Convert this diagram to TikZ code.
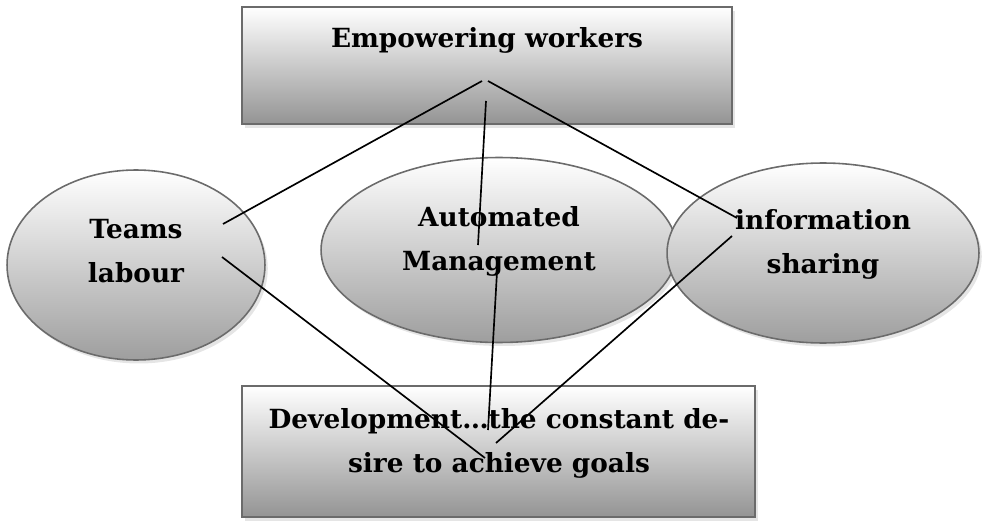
\documentclass[tikz,border=0pt]{standalone}
\usepackage{fontspec}
\setmainfont{DejaVu Serif}
\usetikzlibrary{shapes,shadows}

\tikzset{
  panel/.style={draw=black!58, line width=1.3pt, top color=white, bottom color=black!42, inner sep=0pt,
    drop shadow={shadow xshift=1.6pt, shadow yshift=-2pt, fill=black!20}},
  bubble/.style={ellipse, draw=black!58, line width=0.9pt, top color=white, bottom color=black!38, inner sep=0pt,
    drop shadow={shadow xshift=1.6pt, shadow yshift=-2pt, fill=black!20}},
  caption/.style={font=\fontsize{15}{25}\selectfont\bfseries, align=center, anchor=base, inner sep=0pt},
  link/.style={line width=0.95pt}
}

\begin{document}
\begin{tikzpicture}[x=0.02cm,y=-0.02cm]
    \useasboundingbox (0,0) rectangle (983,530);

    \node [panel, minimum width=9.8cm, minimum height=2.34cm] (empower) at (487,65.5) {};
    \node [panel, minimum width=10.26cm, minimum height=2.62cm] (develop) at (498.5,451.5) {};
    \node [bubble, minimum width=5.16cm, minimum height=3.8cm] (teams) at (136,265) {};
    \node [bubble, minimum width=7.12cm, minimum height=3.7cm] (automated) at (499,250) {};
    \node [bubble, minimum width=6.24cm, minimum height=3.6cm] (sharing) at (823,253) {};

    % two-line captions sit on their last baseline
    \node [caption] (empower-text) at (487,48) {Empowering workers};
    \node [caption] (teams-text) at (136,282) {Teams\\labour};
    \node [caption] (automated-text) at (499,270) {Automated\\Management};
    \node [caption] (sharing-text) at (823,273) {information\\sharing};
    \node [caption] (develop-text) at (499,472) {Development…the constant de-\\sire to achieve goals};

    % line ends
    \coordinate (e1) at (482,81);
    \coordinate (e2) at (486,101);
    \coordinate (e3) at (488,81);
    \coordinate (t1) at (223,224);
    \coordinate (t2) at (222,257);
    \coordinate (a1) at (478,245);
    \coordinate (a2) at (497,272);
    \coordinate (s1) at (737,218);
    \coordinate (s2) at (732,236);
    \coordinate (d1) at (485,458);
    \coordinate (d2) at (488,430);
    \coordinate (d3) at (496,443);

    \draw [link] (t1) -- (e1);
    \draw [link] (e2) -- (a1);
    \draw [link] (e3) -- (s1);
    \draw [link] (t2) -- (d1);
    \draw [link] (a2) -- (d2);
    \draw [link] (s2) -- (d3);
\end{tikzpicture}
\end{document}
